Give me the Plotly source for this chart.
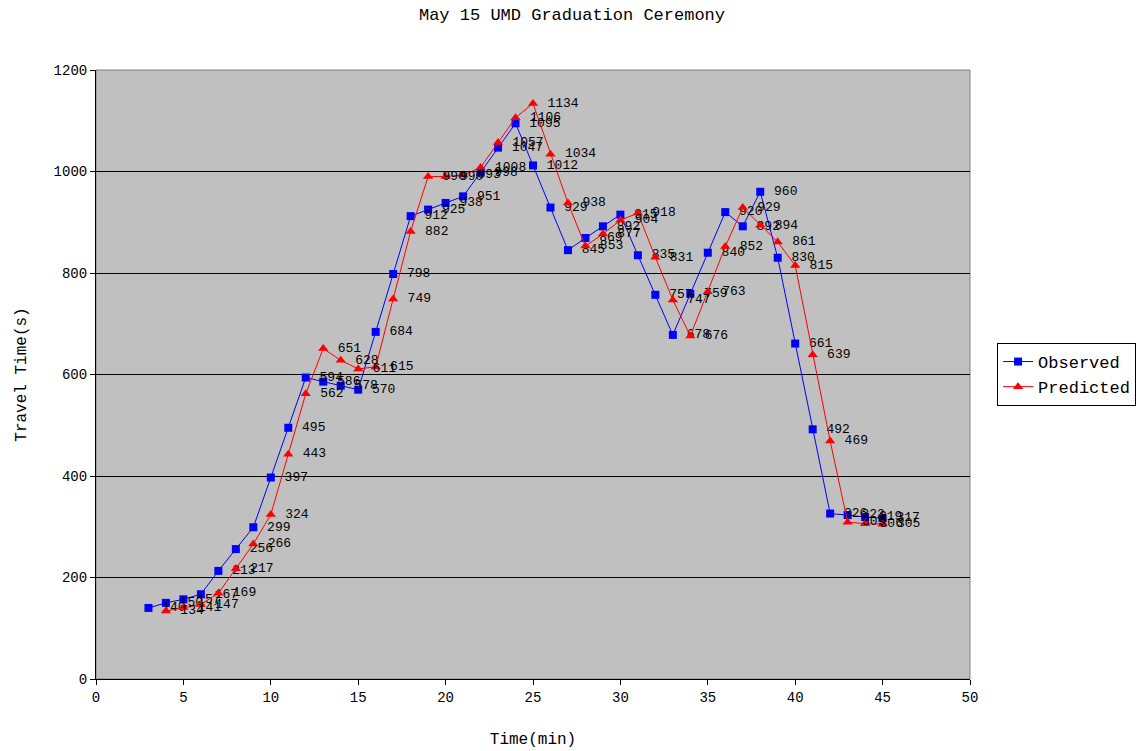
import plotly.graph_objects as go

# Observed travel times (s), one sample per minute starting at minute 3
obs_minutes = list(range(3, 46))
obs_values = [140, 150, 157, 167, 213, 256, 299, 397, 495, 594,
              586, 578, 570, 684, 798, 912, 925, 938, 951, 998,
              1047, 1095, 1012, 929, 845, 869, 892, 915, 835, 757,
              678, 759, 840, 920, 892, 960, 830, 661, 492, 326,
              323, 319, 317]

# Predicted travel times (s), starting at minute 4
pred_minutes = list(range(4, 46))
pred_values = [134, 141, 147, 169, 217, 266, 324, 443, 562, 651,
               628, 611, 615, 749, 882, 990, 990, 993, 1008, 1057,
               1106, 1134, 1034, 938, 853, 877, 904, 918, 831, 747,
               676, 763, 852, 929, 894, 861, 815, 639, 469, 309,
               306, 305]

x_ticks = [0, 5, 10, 15, 20, 25, 30, 35, 40, 45, 50]
y_ticks = [0, 200, 400, 600, 800, 1000, 1200]

FONT = "Liberation Mono, DejaVu Sans Mono, monospace"

fig = go.Figure()

fig.add_trace(go.Scatter(
    x=obs_minutes, y=obs_values, name="Observed",
    mode="lines+markers+text",
    line=dict(color="#0000FF", width=1),
    marker=dict(symbol="square", size=8, color="#0000FF"),
    text=[str(v) for v in obs_values],
    texttemplate=" %{text}",
    textposition="middle right",
    textfont=dict(family=FONT, size=13, color="black"),
    cliponaxis=False,
))

fig.add_trace(go.Scatter(
    x=pred_minutes, y=pred_values, name="Predicted",
    mode="lines+markers+text",
    line=dict(color="#FF0000", width=1),
    marker=dict(symbol="triangle-up", size=9, color="#FF0000"),
    text=[str(v) for v in pred_values],
    texttemplate=" %{text}",
    textposition="middle right",
    textfont=dict(family=FONT, size=13, color="black"),
    cliponaxis=False,
))

# grey frame around the plotting area
fig.add_shape(type="rect", xref="paper", yref="paper", x0=0, y0=0, x1=1, y1=1,
              line=dict(color="#808080", width=1), layer="below")

fig.update_layout(
    width=1144, height=751,
    margin=dict(l=96, r=174, t=70, b=72, autoexpand=False),
    paper_bgcolor="white",
    plot_bgcolor="#C0C0C0",
    font=dict(family=FONT, size=13, color="black"),
    title=dict(text="May 15 UMD Graduation Ceremony", x=0.5, xanchor="center",
               y=1 - 14 / 751, yanchor="middle",
               font=dict(family=FONT, size=17, color="black")),
    showlegend=True,
    legend=dict(x=1.031, xanchor="left", y=0.5, yanchor="middle",
                bgcolor="white", bordercolor="black", borderwidth=1,
                font=dict(family=FONT, size=17, color="black"),
                tracegroupgap=0),
)

fig.update_xaxes(
    range=[0, 50], tickvals=x_ticks, ticktext=[str(t) for t in x_ticks],
    showgrid=False, zeroline=False, automargin=False,
    showline=True, linecolor="black", linewidth=1,
    ticks="outside", ticklen=5, tickcolor="black",
    tickfont=dict(family=FONT, size=14),
    title=dict(text="Time(min)", standoff=28, font=dict(family=FONT, size=16)),
)

fig.update_yaxes(
    range=[0, 1200], tickvals=y_ticks, ticktext=[str(t) for t in y_ticks],
    showgrid=True, gridcolor="black", gridwidth=1, zeroline=False, automargin=False,
    showline=True, linecolor="black", linewidth=1,
    ticks="outside", ticklen=5, tickcolor="black",
    tickfont=dict(family=FONT, size=14),
    title=dict(text="Travel Time(s)", standoff=22, font=dict(family=FONT, size=16)),
)

fig.write_html("out.html")
